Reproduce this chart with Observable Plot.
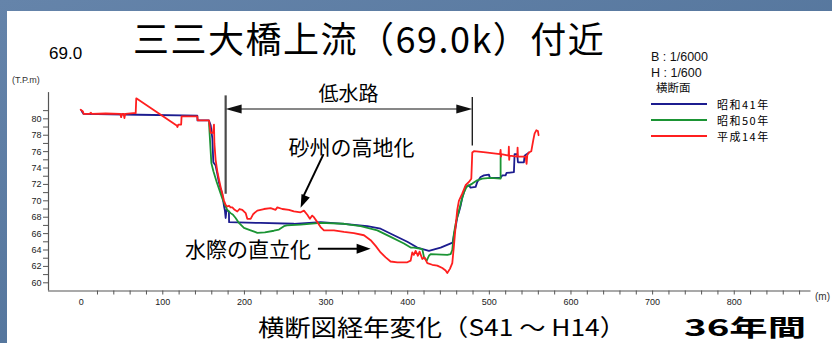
<!DOCTYPE html>
<html>
<head>
<meta charset="utf-8">
<script src="https://cdn.jsdelivr.net/npm/d3@7"></script>
<script src="https://cdn.jsdelivr.net/npm/@observablehq/plot@0.6"></script>
<style>
  html, body { margin: 0; padding: 0; }
  body { width: 832px; height: 343px; overflow: hidden; position: relative;
         background: linear-gradient(160deg, #6584aa 0%, #54759c 60%, #5c7ca2 100%); }
  #panel { position: absolute; left: 7px; top: 11px; right: 0; bottom: 0; background: #fff; }
  #chart { position: absolute; left: 0; top: 0; }
  #captions { position: absolute; left: 0; top: 0; pointer-events: none; }
  .t { position: absolute; white-space: nowrap; line-height: 1; color: #000; transform: translateY(-50%); }
  .jp { font-family: "Noto Sans CJK JP", sans-serif; }
  .lat { font-family: "Liberation Sans", Arial, sans-serif; }
  .key { position: absolute; left: 651px; width: 56px; height: 2px; }
</style>
</head>
<body>
<div id="panel"></div>
<div id="chart"></div>
<div class="t jp" style="left:133px;top:37px;font-size:36px;letter-spacing:1.5px;">三三大橋上流（69.0k）付近</div>
<div class="t lat" style="left:49px;top:53px;font-size:17px;">69.0</div>
<div class="t lat" style="left:12px;top:80px;font-size:9px;color:#333;">(T.P.m)</div>
<div class="t lat" style="left:651px;top:57px;font-size:12.5px;color:#111;">B : 1/6000</div>
<div class="t lat" style="left:651px;top:73px;font-size:12.5px;color:#111;">H : 1/600</div>
<div class="t jp" style="left:656px;top:88px;font-size:11.5px;color:#111;">横断面</div>
<div id="legend"></div>
<div class="t lat" style="left:815px;top:297px;font-size:10px;color:#333;">(m)</div>
<svg id="captions" width="832" height="343">
  <text x="258" y="336" font-family="Noto Sans CJK JP" font-size="23" fill="#000"
        textLength="368" lengthAdjust="spacingAndGlyphs">横断図経年変化（S41 ～ H14）</text>
  <text x="684" y="336" font-family="Noto Sans CJK JP" font-size="23" font-weight="bold" fill="#000"
        textLength="122" lengthAdjust="spacingAndGlyphs">36年間</text>
</svg>

<script>
// Cross-section profiles: [distance from left bank (m), elevation (T.P. m)]
const profileS41 = [
  [0.5, 81.0], [1.5, 80.8], [3, 80.6], [70, 80.5], [142.3, 80.4], [142.5, 79.8], [156.5, 79.8],
  [158.7, 79.2], [160.7, 77.6], [161.9, 74.7], [164.7, 74.3], [166.8, 73.3], [168.8, 72.2],
  [172.9, 70.8], [174.9, 69.4], [176.1, 68.8], [177, 67.9], [178, 68.9], [181, 68.7], [181.2, 67.4],
  [219.8, 67.3], [260.6, 67.2], [293.3, 67.4], [322, 67.2], [350.5, 66.9], [366.8, 66.6],
  [383.1, 65.8], [399.5, 65.0], [411.8, 64.3], [426, 63.9], [440.3, 64.3], [455, 64.9],
  [456.6, 65.8], [458.7, 66.8], [460.7, 68.0], [462.7, 68.6], [464.8, 69.4], [466.8, 70.4],
  [468.8, 71.0], [470.9, 71.7], [475, 71.9], [477, 71.6], [483.2, 71.7], [485.2, 72.3],
  [487.2, 72.6], [489.3, 72.9], [493.3, 73.1], [499.5, 73.2], [500.3, 72.9], [501.5, 72.8],
  [513.8, 72.8], [515.8, 73.1], [519.9, 73.1], [521.1, 73.4], [530.1, 73.5], [530.9, 75.7],
  [534.2, 75.7], [535, 74.7], [542.3, 74.7], [543.2, 75.5], [546, 75.7], [548.5, 75.9]
];
const profileS50 = [
  [156.6, 79.5], [157.6, 77.8], [159.5, 74.6], [162, 73.6], [166, 72.3], [172.9, 70.3],
  [176, 69.5], [179, 68.9], [183.1, 68.5], [186, 68.3], [189.2, 67.9], [193.3, 67.3],
  [199.4, 66.7], [207.6, 66.4], [215.8, 66.1], [225, 66.15], [236.1, 66.35], [242.3, 66.5],
  [248.4, 66.9], [252, 67.0], [269, 67.1], [293.3, 67.3], [322, 67.2], [342.4, 66.9],
  [362.8, 66.4], [379.1, 65.6], [395.4, 64.8], [403.6, 64.3], [407.7, 64.3], [417.9, 64.1],
  [420, 63.1], [423.3, 62.7], [426, 63.3], [428.1, 63.5], [448.5, 63.4], [452.6, 63.5],
  [454.6, 64.0], [456.6, 66.0], [458.7, 67.2], [460.7, 68.0], [464.8, 69.6], [468.8, 71.0],
  [472.1, 71.7], [479.1, 72.1], [485.2, 72.5], [491.4, 72.7], [501.5, 72.8], [513.8, 72.7],
  [513.8, 75.7]
];
const profileH14 = [
  [-0.6, 81.1], [2.2, 80.9], [3.0, 80.6], [10, 80.6], [12, 80.75], [13, 80.6], [30, 80.65],
  [48, 80.6], [49, 80.2], [50, 80.6], [52, 80.6], [53, 80.1], [54, 80.6], [64, 80.7],
  [66.8, 80.7], [67.5, 82.5], [117, 79.2], [118, 79.0], [119, 79.3], [122.5, 79.3], [123, 80.3],
  [142.3, 80.3], [142.8, 79.8], [156.6, 79.8], [158.6, 78.3], [161.5, 78.3], [162.7, 79.3],
  [163.2, 77.0], [164.7, 75.0], [166.8, 73.6], [168.8, 72.6], [171, 71.6], [172.9, 70.9],
  [175, 70.0], [177, 69.5], [179, 69.3], [181, 69.4], [183, 69.2], [185.2, 69.2], [188, 68.9],
  [191.3, 68.7], [194, 69.0], [197.4, 68.9], [201.5, 68.5], [203.5, 67.8], [207.6, 67.8],
  [210.9, 68.4], [215.8, 68.8], [223.9, 69.0], [232.1, 69.1], [238.2, 68.9], [240.3, 69.2],
  [246.4, 69.0], [254.5, 68.9], [260.6, 68.7], [268.8, 68.6], [272.9, 68.8], [277.0, 68.3],
  [280.2, 67.8], [283, 68.2], [285.1, 68.0], [289.3, 67.4], [293.3, 66.8], [297.4, 66.4],
  [309.6, 66.4], [321.9, 66.2], [334.1, 66.05], [346.4, 65.8], [354.6, 65.2], [360.7, 64.5],
  [366.8, 63.7], [373, 63.1], [379, 62.6], [387.3, 62.5], [399.5, 62.5], [403.6, 62.7],
  [405.6, 63.7], [407.5, 63.4], [409.7, 63.9], [412.5, 63.3], [414.5, 63.8], [417.9, 62.9],
  [420.5, 63.1], [424, 62.4], [430.1, 62.2], [436.2, 62.1], [442.4, 61.8], [446.4, 61.5],
  [448.5, 61.2], [451.7, 61.7], [454.6, 62.4], [456.6, 64.5], [458.7, 66.9], [460.7, 68.9],
  [462.7, 70.0], [466.9, 70.9], [470.9, 71.9], [475, 72.3], [477.9, 72.7], [479.1, 75.9],
  [481.1, 76.05], [495.4, 75.9], [513, 75.7], [513.8, 76.2], [514.3, 75.4], [514.8, 75.7],
  [523.5, 75.5], [523.9, 76.6], [524.3, 75.0], [524.7, 75.5], [534.2, 75.4], [534.6, 76.5],
  [535, 75.4], [544.4, 75.4], [545.6, 74.5], [546.5, 75.6], [548.5, 75.9], [551.4, 76.05],
  [553.8, 77.4], [555.4, 78.2], [557.5, 78.6], [559.5, 78.5], [560.3, 78.0]
];

const seriesNames = ["昭和41年", "昭和50年", "平成14年"];
const seriesColors = ["#1c1c8f", "#1b9434", "#ff1f1f"];
const profiles = [profileS41, profileS50, profileH14];

const yMajorTicks = [60, 62, 64, 66, 68, 70, 72, 74, 76, 78, 80];
const yMinorTicks = [61, 63, 65, 67, 69, 71, 73, 75, 77, 79, 81];
const xLabelTicks = [0, 100, 200, 300, 400, 500, 600, 700, 800];
const xMarkTicks = d3.range(20, 881, 20);

// Low-water channel extent and annotation labels
const channelEdges = [177, 479.1];
const channelLabel = ["低水路"];
const barLabel = ["砂州の高地化"];
const bankLabel = ["水際の直立化"];

// filled arrowhead with its tip at the origin, pointing up before rotation
const arrowHead = (len, half) => ({
  draw(ctx) { ctx.moveTo(0, 0); ctx.lineTo(-half, len); ctx.lineTo(half, len); ctx.closePath(); }
});

const rows = profiles.flatMap((p, i) => p.map(([x, y]) => ({x, y, s: seriesNames[i]})));
const jp = "Noto Sans CJK JP";

const chart = Plot.plot({
  width: 832,
  height: 343,
  marginLeft: 48,
  marginRight: 21.5,
  marginTop: 92.1,
  marginBottom: 52.5,
  style: {background: "transparent", fontFamily: "Liberation Sans, Arial, sans-serif", fontSize: "9px", color: "#222"},
  x: {domain: [-40, 894], axis: null},
  y: {domain: [59, 83.2], axis: null},
  color: {domain: seriesNames, range: seriesColors},
  marks: [
    Plot.ruleX([-40], {y1: 59, y2: 83.2, stroke: "#555", strokeWidth: 1.2}),
    Plot.ruleY([59], {x1: -40, x2: 894, stroke: "#555", strokeWidth: 1.2}),
    Plot.axisY({ticks: yMajorTicks, tickSize: 5, tickPadding: 2, label: null, stroke: "#555", fill: "#222"}),
    Plot.axisY({ticks: yMinorTicks, tickSize: 5, tickFormat: () => "", label: null, stroke: "#555"}),
    Plot.axisX({ticks: xLabelTicks, tickSize: 0, tickPadding: 8, label: null, fill: "#222"}),
    Plot.axisX({ticks: xMarkTicks, tickSize: 4, tickFormat: () => "", label: null, stroke: "#555"}),

    Plot.line(rows, {x: "x", y: "y", z: "s", stroke: "s", strokeWidth: 1.8, curve: "linear"}),

    // low-water channel markers
    Plot.ruleX([channelEdges[0]], {y1: 70.8, y2: 82.8, stroke: "#4a4a4a", strokeWidth: 2.2}),
    Plot.ruleX([channelEdges[1]], {y1: 76.7, y2: 82.6, stroke: "#111", strokeWidth: 1.3}),
    Plot.ruleY([81.2], {x1: channelEdges[0] + 12, x2: channelEdges[1] - 12, stroke: "#111", strokeWidth: 1.2}),
    Plot.dot([channelEdges[0]], {x: d => d, y: () => 81.2, r: 1, symbol: arrowHead(16, 4.5), rotate: -90, fill: "#111", stroke: "none"}),
    Plot.dot([channelEdges[1]], {x: d => d, y: () => 81.2, r: 1, symbol: arrowHead(16, 4.5), rotate: 90, fill: "#111", stroke: "none"}),
    Plot.text(channelLabel, {x: () => 327.6, y: () => 82.95, text: d => d, fontFamily: jp, fontSize: 20, fill: "#000"}),

    // sand bar annotation
    Plot.text(barLabel, {x: () => 331, y: () => 76.4, text: d => d, fontFamily: jp, fontSize: 21, fill: "#000"}),
    Plot.link(barLabel, {x1: () => 296.9, y1: () => 75.7, x2: () => 272.5, y2: () => 70.6, stroke: "#000", strokeWidth: 2}),
    Plot.dot(barLabel, {x: () => 268.8, y: () => 69.15, r: 1, symbol: arrowHead(13, 4.5), rotate: 203, fill: "#000", stroke: "none"}),

    // bank annotation
    Plot.text(bankLabel, {x: () => 204.5, y: () => 63.95, text: d => d, fontFamily: jp, fontSize: 21, fill: "#000"}),
    Plot.link(bankLabel, {x1: () => 290, y1: () => 64.15, x2: () => 340, y2: () => 64.15, stroke: "#000", strokeWidth: 2}),
    Plot.dot(bankLabel, {x: () => 354.6, y: () => 64.15, r: 1, symbol: arrowHead(14, 5), rotate: 90, fill: "#000", stroke: "none"})
  ]
});
document.getElementById("chart").append(chart);

// legend entries
const legend = document.getElementById("legend");
seriesNames.forEach((name, i) => {
  const cy = 104 + 16 * i;
  const key = document.createElement("div");
  key.className = "key";
  key.style.top = (cy - 1) + "px";
  key.style.background = seriesColors[i];
  legend.append(key);
  const label = document.createElement("div");
  label.className = "t jp";
  label.style.cssText = `left:717px;top:${cy}px;font-size:11px;letter-spacing:1.5px;`;
  label.textContent = name;
  legend.append(label);
});
</script>
</body>
</html>
